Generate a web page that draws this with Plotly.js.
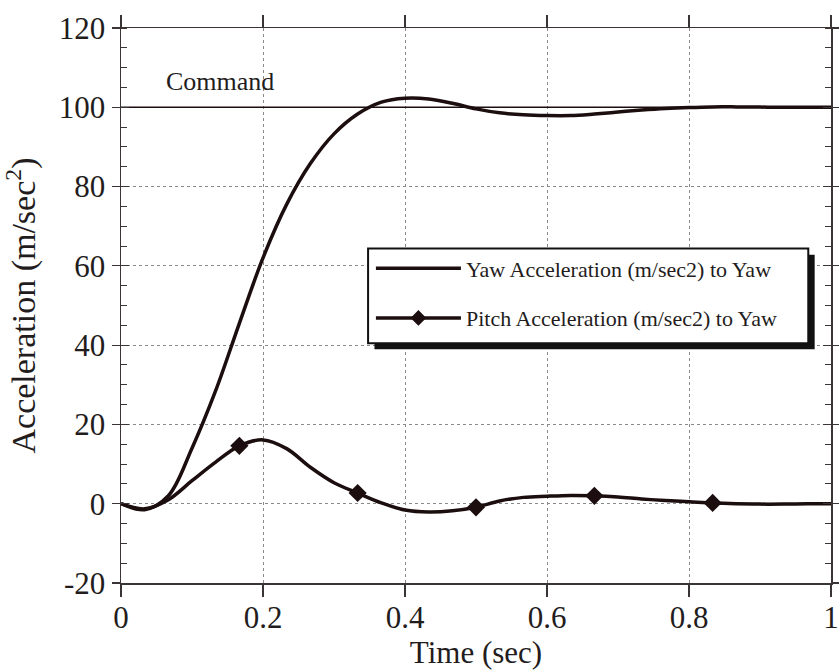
<!DOCTYPE html>
<html>
<head>
<meta charset="utf-8">
<script src="https://cdn.plot.ly/plotly-3.0.1.min.js"></script>
<style>
  html, body { margin: 0; padding: 0; background: #ffffff; }
  #chart { width: 839px; height: 670px; }
</style>
</head>
<body>
<div id="chart"></div>
<script>
// Time base (sec), sampled every 1/30 s
const timeSec = [
  0.0000, 0.0333, 0.0667, 0.1000, 0.1333, 0.1667, 0.2000, 0.2333, 0.2667, 0.3000,
  0.3333, 0.3667, 0.4000, 0.4333, 0.4667, 0.5000, 0.5333, 0.5667, 0.6000, 0.6333,
  0.6667, 0.7000, 0.7333, 0.7667, 0.8000, 0.8333, 0.8667, 0.9000, 0.9333, 0.9667,
  1.0000
];

// Yaw acceleration response to a yaw command (m/sec^2)
const yawAccel = [
  0.0, -1.5, 2.0, 14.0, 28.5, 45.5, 62.0, 75.5, 85.8, 93.3,
  98.3, 101.3, 102.3, 102.1, 101.0, 99.6, 98.6, 98.1, 97.9, 97.9,
  98.3, 98.8, 99.3, 99.7, 99.95, 100.1, 100.1, 100.05, 100.0, 100.0,
  100.0
];

// Pitch acceleration cross-coupled from the yaw command (m/sec^2)
const pitchAccel = [
  0.0, -1.3, 1.0, 5.8, 10.5, 14.6, 16.1, 13.9, 9.2, 5.3,
  2.7, 0.2, -1.6, -2.1, -1.8, -0.9, 0.7, 1.6, 1.9, 2.1,
  2.0, 1.7, 1.2, 0.8, 0.5, 0.2, 0.0, -0.1, -0.1, 0.0,
  0.0
];

// Samples that carry a diamond symbol on the pitch curve
const pitchMarkerIdx = [5, 10, 15, 20, 25];

// Commanded acceleration level
const commandTime = [0, 1];
const commandLevel = [100, 100];

// Axis ticks
const xTickVals = [0, 0.2, 0.4, 0.6, 0.8, 1];
const xTickText = ['0', '0.2', '0.4', '0.6', '0.8', '1'];
const yTickVals = [-20, 0, 20, 40, 60, 80, 100, 120];
const yTickText = ['-20', '0', '20', '40', '60', '80', '100', '120'];

const yawName = 'Yaw Acceleration (m/sec2) to Yaw';
const pitchName = 'Pitch Acceleration (m/sec2) to Yaw';

const ink = '#1c0e0e';
const axisInk = '#3a3434';
const textInk = '#231c1c';
const serif = 'Liberation Serif, Times New Roman, serif';

const markT = pitchMarkerIdx.map(i => timeSec[i]);
const markY = pitchMarkerIdx.map(i => pitchAccel[i]);

const traces = [
  {
    x: commandTime, y: commandLevel, yaxis: 'y2',
    mode: 'lines', line: { color: ink, width: 1.5 },
    showlegend: false, hoverinfo: 'skip', cliponaxis: false
  },
  {
    x: timeSec, y: yawAccel, name: yawName, legendgroup: 'yaw',
    mode: 'lines', line: { color: ink, width: 3.5, shape: 'spline', smoothing: 1 }
  },
  {
    x: timeSec, y: pitchAccel, name: pitchName, legendgroup: 'pitch',
    mode: 'lines', line: { color: ink, width: 3.5, shape: 'spline', smoothing: 1 },
    showlegend: false
  },
  {
    x: markT, y: markY, name: pitchName, legendgroup: 'pitch',
    mode: 'markers', marker: { symbol: 'diamond', size: 14, color: ink },
    showlegend: false
  },
  {
    // legend entry for the pitch curve (line with diamond)
    x: [null], y: [null], name: pitchName, legendgroup: 'pitch',
    mode: 'lines+markers',
    line: { color: ink, width: 3.5 },
    marker: { symbol: 'diamond', size: 12, color: ink }
  }
];

// Legend frame (paper coordinates) and its drop shadow
const boxX0 = 0.348, boxX1 = 0.968, boxY0 = 0.432, boxY1 = 0.6025;
const shadowDx = 0.009, shadowDy = 0.011;

const layout = {
  width: 839,
  height: 670,
  margin: { l: 121, r: 8, t: 28, b: 87 },
  paper_bgcolor: '#ffffff',
  plot_bgcolor: '#ffffff',
  font: { family: serif, color: textInk },
  showlegend: true,
  legend: {
    x: boxX0 + 0.004, y: boxY1 + 0.002, xanchor: 'left', yanchor: 'top',
    bgcolor: 'rgba(0,0,0,0)', borderwidth: 0,
    font: { family: serif, size: 22, color: textInk },
    itemwidth: 85, tracegroupgap: 18
  },
  xaxis: {
    range: [0, 1],
    tickmode: 'array', tickvals: xTickVals, ticktext: xTickText,
    ticks: 'outside', ticklen: 12, tickwidth: 1.2, tickcolor: axisInk,
    ticklabelstandoff: -6,
    showline: true, linecolor: axisInk, linewidth: 1.5, mirror: 'ticks',
    showgrid: true, gridcolor: '#8a8a8a', gridwidth: 1, griddash: 'dot',
    zeroline: false,
    tickfont: { family: serif, size: 31, color: textInk },
    title: { text: 'Time (sec)', font: { family: serif, size: 31, color: textInk }, standoff: 6 }
  },
  yaxis: {
    range: [-20, 120],
    tickmode: 'array', tickvals: yTickVals, ticktext: yTickText,
    ticks: 'outside', ticklen: 8, tickwidth: 1.2, tickcolor: axisInk,
    minor: { dtick: 5, ticks: 'inside', ticklen: 6, tickwidth: 1, tickcolor: axisInk, showgrid: false },
    showline: true, linecolor: axisInk, linewidth: 1.5, mirror: 'ticks',
    showgrid: true, gridcolor: '#8a8a8a', gridwidth: 1, griddash: 'dot',
    zeroline: false,
    tickfont: { family: serif, size: 31, color: textInk },
    title: { text: 'Acceleration (m/sec<sup>2</sup>)', font: { family: serif, size: 34, color: textInk }, standoff: 14 }
  },
  yaxis2: {
    overlaying: 'y', side: 'left',
    range: [-20, 120],
    tickmode: 'array', tickvals: yTickVals,
    ticks: 'inside', ticklen: 8, tickwidth: 1.2, tickcolor: axisInk,
    showline: true, linecolor: axisInk, linewidth: 1.5, mirror: 'ticks',
    showticklabels: false, showgrid: false, zeroline: false
  },
  annotations: [
    {
      text: 'Command', xref: 'x', yref: 'y', x: 0.139, y: 106.5,
      showarrow: false, font: { family: serif, size: 26, color: textInk }
    }
  ],
  shapes: [
    {
      type: 'rect', xref: 'paper', yref: 'paper', layer: 'above',
      x0: boxX0 + shadowDx, x1: boxX1 + shadowDx, y0: boxY0 - shadowDy, y1: boxY1 - shadowDy,
      fillcolor: '#111111', line: { width: 0 }
    },
    {
      type: 'rect', xref: 'paper', yref: 'paper', layer: 'above',
      x0: boxX0, x1: boxX1, y0: boxY0, y1: boxY1,
      fillcolor: '#ffffff', line: { color: '#111111', width: 2 }
    }
  ]
};

Plotly.newPlot('chart', traces, layout, { staticPlot: true, displayModeBar: false });
</script>
</body>
</html>
